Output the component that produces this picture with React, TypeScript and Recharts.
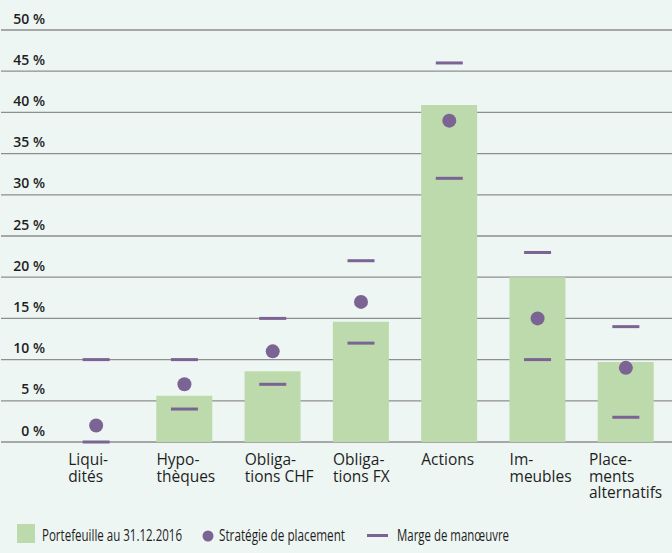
import { ComposedChart, Bar, Scatter, XAxis, YAxis, CartesianGrid } from "recharts";

const categories = [
  "Liqui-|dités",
  "Hypo-|thèques",
  "Obliga-|tions CHF",
  "Obliga-|tions FX",
  "Actions",
  "Im-|meubles",
  "Place-|ments|alternatifs",
];
const portefeuille = [0, 5.6, 8.6, 14.6, 40.9, 20.0, 9.7];
const strategie = [2, 7, 11, 17, 39, 15, 9];
const margeMin = [0, 4, 7, 12, 32, 10, 3];
const margeMax = [10, 10, 15, 22, 46, 23, 14];
const yTicks = [0, 5, 10, 15, 20, 25, 30, 35, 40, 45, 50];

const BG = "#eef6f3";
const GREEN = "#bcdaab";
const PURPLE = "#7b6494";
const GRID = "#8e8e8e";
const FONT = "'Open Sans', sans-serif";

const data = categories.map((c, i) => ({
  name: c,
  portefeuille: portefeuille[i] || null,
  strategie: strategie[i],
  margeMin: margeMin[i],
  margeMax: margeMax[i],
}));

const YTick = ({ y, payload }: any) => (
  <text x={45} y={y - 6.5} textAnchor="end" fontSize={14} fontWeight={600} fill="#1e1e1e" fontFamily={FONT}>
    {payload.value} %
  </text>
);

// left-aligned multi-line labels, pulled back if they'd run off the right edge
const XTick = ({ x, y, payload }: any) => {
  const lines = String(payload.value).split("|");
  const longest = Math.max(...lines.map((l) => l.length));
  let start = x - 28;
  const est = longest * 7;
  if (start + est > 666) start = 666 - est;
  return (
    <g>
      {lines.map((l, i) => (
        <text key={i} x={start} y={y + 15 + i * 16.5} fontSize={15.5} fill="#1e1e1e" fontFamily={FONT}>
          {l}
        </text>
      ))}
    </g>
  );
};

const Dash = ({ cx, cy }: any) => <rect x={cx - 13.5} y={cy - 1.5} width={27} height={3} fill={PURPLE} />;
const Dot = ({ cx, cy }: any) => <circle cx={cx} cy={cy} r={7} fill={PURPLE} />;

function Legend() {
  return (
    <svg width={672} height={40} style={{ position: "absolute", left: 0, top: 515 }}>
      <g fontFamily={FONT} fontSize={16.5} fill="#1e1e1e">
        <rect x={17} y={9} width={18} height={19} fill={GREEN} />
        <text x={42} y={25.5} textLength={140} lengthAdjust="spacingAndGlyphs">
          Portefeuille au 31.12.2016
        </text>
        <circle cx={208} cy={21} r={5.5} fill={PURPLE} />
        <text x={219} y={25.5} textLength={126} lengthAdjust="spacingAndGlyphs">
          Stratégie de placement
        </text>
        <rect x={367} y={19} width={21} height={3} fill={PURPLE} />
        <text x={397} y={25.5} textLength={112} lengthAdjust="spacingAndGlyphs">
          Marge de manœuvre
        </text>
      </g>
    </svg>
  );
}

export default function App() {
  return (
    <div style={{ position: "absolute", left: 0, top: 0, width: 672, height: 553, background: BG }}>
      <ComposedChart width={672} height={553} data={data} margin={{ top: 30, right: 0, bottom: 41, left: 0 }}>
        <CartesianGrid horizontal vertical={false} stroke={GRID} strokeWidth={1.3} />
        <XAxis
          dataKey="name"
          axisLine={false}
          tickLine={false}
          interval={0}
          height={70}
          padding={{ left: 51, right: 2 }}
          tick={<XTick />}
        />
        <YAxis
          domain={[0, 50]}
          ticks={yTicks}
          width={1}
          interval={0}
          axisLine={false}
          tickLine={false}
          tick={<YTick />}
        />
        <Bar dataKey="portefeuille" fill={GREEN} barSize={56} isAnimationActive={false} />
        <Scatter dataKey="margeMax" shape={<Dash />} isAnimationActive={false} />
        <Scatter dataKey="margeMin" shape={<Dash />} isAnimationActive={false} />
        <Scatter dataKey="strategie" shape={<Dot />} isAnimationActive={false} />
      </ComposedChart>
      <Legend />
    </div>
  );
}
